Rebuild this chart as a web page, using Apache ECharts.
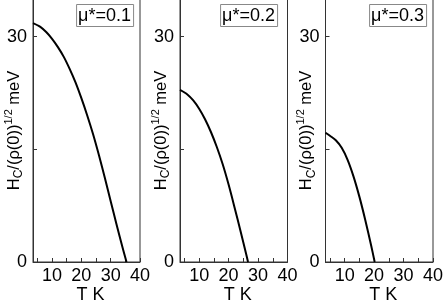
<!DOCTYPE html>
<html><head><meta charset="utf-8">
<script src="https://cdn.jsdelivr.net/npm/echarts@6/dist/echarts.min.js"></script>
<style>html,body{margin:0;padding:0;background:#fff}#c{width:443px;height:303px}</style>
</head><body><div id="c"></div>
<script>
const panelLabels = ['μ*=0.1', 'μ*=0.2', 'μ*=0.3'];
const T1 = [3.5, 6, 8, 10, 12, 14, 16, 18, 20, 22, 24, 26, 28, 30, 32, 34, 35.4];
const H1 = [31.8, 31.3, 30.6, 29.7, 28.6, 27.3, 25.7, 23.9, 21.8, 19.5, 17.0, 14.2, 11.2, 8.1, 5.0, 2.0, 0];
const T2 = [3.5, 6, 8, 10, 12, 14, 16, 18, 20, 22, 24, 26, 26.6];
const H2 = [22.9, 22.3, 21.5, 20.4, 19.0, 17.3, 15.3, 13.0, 10.3, 7.3, 4.2, 1.0, 0];
const T3 = [3.5, 5, 7, 9, 11, 13, 15, 17, 19, 20.2];
const H3 = [17.2, 16.8, 16.2, 15.2, 13.6, 11.4, 8.7, 5.6, 2.2, 0];
const xTickLabels = [10, 20, 30, 40];
const xTicks = [5, 10, 15, 20, 25, 30, 35, 40];
const yTickLabels = [0, 30];
const yTicks = [0, 15, 30];

const Ts = [T1, T2, T3], Hs = [H1, H2, H3];
const grids = [
  {left: 33, top: -1, width: 107, height: 263},
  {left: 180, top: -1, width: 107.5, height: 263},
  {left: 325.5, top: -1, width: 107.5, height: 263}
];
const boxRight = [309, 165, 16];
const FONT = 'Liberation Sans, Arial, sans-serif';
const axisColor = '#333';

const option = {
  animation: false,
  textStyle: {fontFamily: FONT},
  grid: grids.map(g => Object.assign({show: true, borderColor: axisColor, borderWidth: 1, containLabel: false, outerBoundsMode: 'none'}, g)),
  title: panelLabels.map((t, i) => ({
    text: t, right: boxRight[i], top: 4,
    borderColor: '#888', borderWidth: 1, padding: [3, 3, 2, 2],
    textStyle: {fontFamily: FONT, fontSize: 18, fontWeight: 'normal', color: '#000'}
  })),
  xAxis: grids.map((g, i) => ({
    type: 'value', gridIndex: i, min: 3.5, max: 40,
    name: 'T K', nameLocation: 'middle', nameGap: 24, nameMoveOverlap: false,
    nameTextStyle: {fontFamily: FONT, fontSize: 18, color: '#000', padding: [0, 0, 0, 8]},
    axisLine: {show: true, lineStyle: {color: axisColor, width: 1}},
    axisTick: {show: true, inside: true, length: 4, customValues: xTicks, lineStyle: {color: axisColor}},
    axisLabel: {customValues: xTickLabels, fontSize: 18, color: '#000', margin: 5, fontFamily: FONT},
    splitLine: {show: false}
  })),
  yAxis: grids.map((g, i) => ({
    type: 'value', gridIndex: i, min: 0, max: 35,
    name: '{m|H}{sb|C}{m|/(ρ(0))}{sp|1/2}{m| meV}',
    nameLocation: 'middle', nameRotate: 90, nameGap: 8, nameMoveOverlap: false,
    nameTextStyle: {
      color: '#000',
      rich: {
        m: {fontFamily: FONT, fontSize: 16.5, color: '#000', lineHeight: 22, verticalAlign: 'middle'},
        sb: {fontFamily: FONT, fontSize: 12, color: '#000', verticalAlign: 'bottom', lineHeight: 22},
        sp: {fontFamily: FONT, fontSize: 11, color: '#000', verticalAlign: 'top', lineHeight: 22}
      }
    },
    axisLine: {show: true, lineStyle: {color: axisColor, width: 1}},
    axisTick: {show: true, inside: true, length: 4, customValues: yTicks, lineStyle: {color: axisColor}},
    axisLabel: {customValues: yTickLabels, fontSize: 18, color: '#000', margin: 6, fontFamily: FONT},
    splitLine: {show: false}
  })),
  series: Ts.map((T, i) => ({
    type: 'line', xAxisIndex: i, yAxisIndex: i, smooth: 0.3, symbol: 'none',
    lineStyle: {color: '#000', width: 2},
    data: T.map((t, k) => [t, Hs[i][k]])
  }))
};
const chart = echarts.init(document.getElementById('c'), null, {renderer: 'canvas'});
chart.setOption(option);
</script></body></html>
